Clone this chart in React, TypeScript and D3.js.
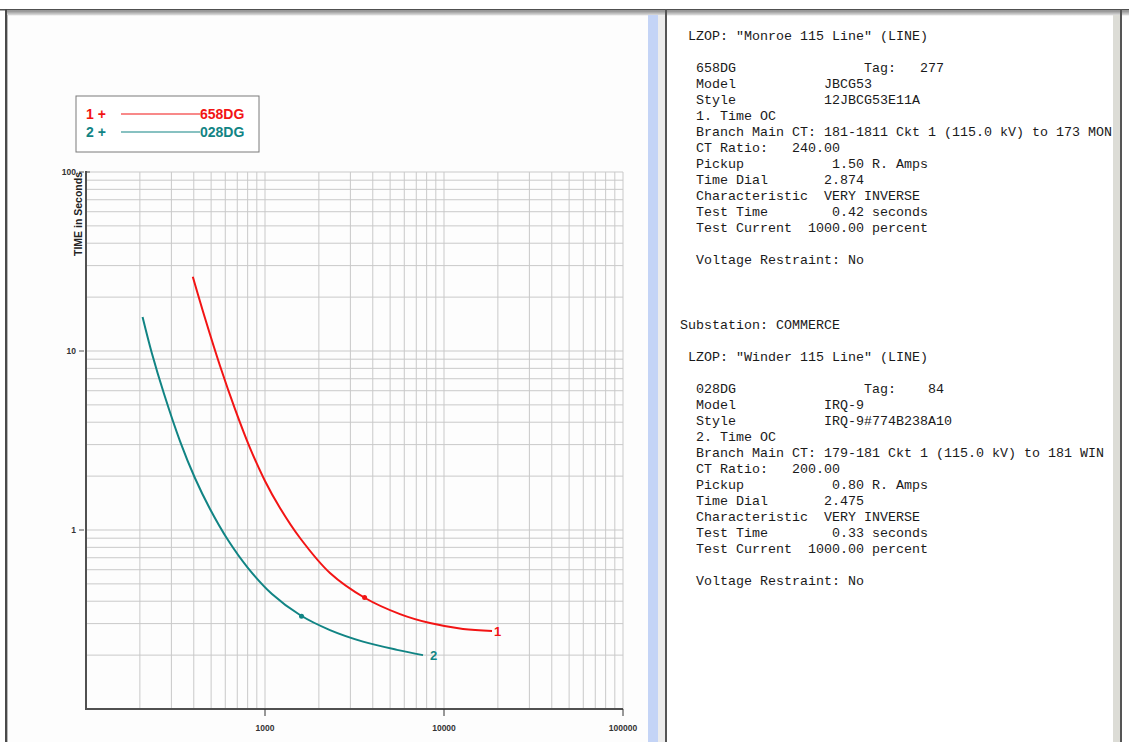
import React from "react";
import * as d3 from "d3";

// ---- data ----
const series1Name = "658DG";
const series2Name = "028DG";
const series1Current = [395, 462, 561, 680, 825, 1000, 1213, 1569, 2307, 3621, 5679, 8351, 12770, 18550];
const series1Time = [26.0, 15.29, 8.25, 4.74, 2.87, 1.88, 1.327, 0.902, 0.575, 0.417, 0.339, 0.302, 0.28, 0.273];
const series2Current = [207, 234, 273, 335, 406, 493, 621, 804, 1094, 1569, 2307, 3528, 5463, 7634];
const series2Time = [15.5, 9.62, 5.75, 3.14, 1.952, 1.31, 0.879, 0.613, 0.439, 0.335, 0.276, 0.238, 0.214, 0.2];
const testPoints = [
  { current: 3600, time: 0.42 },
  { current: 1600, time: 0.33 },
];
const xTickLabels = [1000, 10000, 100000];
const yTickLabels = [100, 10, 1];
const xDomain = [100, 100000];
const yDomain = [0.1, 100];

const block1 = [
  ' LZOP: "Monroe 115 Line" (LINE)',
  "",
  "  658DG                Tag:   277",
  "  Model           JBCG53",
  "  Style           12JBCG53E11A",
  "  1. Time OC",
  "  Branch Main CT: 181-1811 Ckt 1 (115.0 kV) to 173 MON",
  "  CT Ratio:   240.00",
  "  Pickup           1.50 R. Amps",
  "  Time Dial       2.874",
  "  Characteristic  VERY INVERSE",
  "  Test Time        0.42 seconds",
  "  Test Current  1000.00 percent",
  "",
  "  Voltage Restraint: No",
];
const block2 = [
  "Substation: COMMERCE",
  "",
  ' LZOP: "Winder 115 Line" (LINE)',
  "",
  "  028DG                Tag:    84",
  "  Model           IRQ-9",
  "  Style           IRQ-9#774B238A10",
  "  2. Time OC",
  "  Branch Main CT: 179-181 Ckt 1 (115.0 kV) to 181 WIN",
  "  CT Ratio:   200.00",
  "  Pickup           0.80 R. Amps",
  "  Time Dial       2.475",
  "  Characteristic  VERY INVERSE",
  "  Test Time        0.33 seconds",
  "  Test Current  1000.00 percent",
  "",
  "  Voltage Restraint: No",
];

const RED = "#f21414";
const TEAL = "#118484";

export default function App() {
  const W = 1129,
    H = 742;
  const left = 86,
    right = 623,
    top = 172,
    bottom = 709;
  const x = d3.scaleLog().domain(xDomain).range([left, right]);
  const y = d3.scaleLog().domain(yDomain).range([bottom, top]);
  const xGrid = x.ticks();
  const yGrid = y.ticks();
  const line = d3
    .line<[number, number]>()
    .x((d) => x(d[0]))
    .y((d) => y(d[1]))
    .curve(d3.curveCatmullRom.alpha(0.5));
  const s1 = series1Current.map((c, i) => [c, series1Time[i]] as [number, number]);
  const s2 = series2Current.map((c, i) => [c, series2Time[i]] as [number, number]);
  const last1 = s1[s1.length - 1];
  const last2 = s2[s2.length - 1];
  const mono = "'Liberation Mono', 'Courier New', monospace";
  const sans = "'Liberation Sans', Arial, sans-serif";

  return (
    <svg
      width={W}
      height={H}
      style={{ position: "absolute", left: 0, top: 0, background: "#ffffff" }}
    >
      <defs>
        <linearGradient id="topbar" x1="0" x2="0" y1="0" y2="1">
          <stop offset="0" stopColor="#8a8a8a" />
          <stop offset="1" stopColor="#e4e4e4" />
        </linearGradient>
      </defs>
      {/* window frames */}
      <rect x={0} y={0} width={W} height={H} fill="#ffffff" />
      <rect x={8} y={15} width={640} height={727} fill="#fdfdfd" />
      <rect x={0} y={9} width={W} height={1.5} fill="#505050" />
      <rect x={6} y={10.5} width={W - 6} height={5} fill="url(#topbar)" />
      <rect x={5} y={9} width={2} height={H} fill="#4a4a4a" />
      <rect x={7} y={15} width={1} height={H} fill="#b8b8b8" />
      <rect x={648} y={15} width={10} height={H} fill="#c4d4f6" />
      <rect x={658} y={15} width={7} height={H} fill="#ececec" />
      <rect x={665} y={9} width={2} height={H} fill="#555555" />
      <rect x={1113} y={15} width={7} height={H} fill="#dcdcd6" />
      <rect x={1120} y={9} width={2} height={H} fill="#555555" />

      {/* grid */}
      <g stroke="#c9c9c9" strokeWidth={1}>
        {xGrid.map((t, i) => (
          <line key={"xg" + i} x1={x(t)} x2={x(t)} y1={top} y2={bottom} />
        ))}
        {yGrid.map((t, i) => (
          <line key={"yg" + i} x1={left} x2={right} y1={y(t)} y2={y(t)} />
        ))}
      </g>
      {/* axes */}
      <line x1={left} x2={left} y1={top - 1} y2={bottom + 1} stroke="#505050" strokeWidth={2} />
      <line x1={left} x2={right} y1={bottom} y2={bottom} stroke="#505050" strokeWidth={2} />
      <line x1={left} x2={left + 4} y1={top} y2={top} stroke="#505050" strokeWidth={1} />
      {yTickLabels.map((t) => (
        <g key={"yl" + t}>
          <line x1={left - 7} x2={left - 2} y1={y(t)} y2={y(t)} stroke="#555" strokeWidth={1} />
          <text
            x={left - 10}
            y={y(t) + 3}
            textAnchor="end"
            fontFamily={sans}
            fontSize={8.5}
            fontWeight="bold"
            fill="#333"
          >
            {t}
          </text>
        </g>
      ))}
      {xTickLabels.map((t) => (
        <g key={"xl" + t}>
          <line x1={x(t)} x2={x(t)} y1={bottom} y2={bottom + 7} stroke="#333" strokeWidth={1} />
          <text
            x={x(t)}
            y={bottom + 22}
            textAnchor="middle"
            fontFamily={sans}
            fontSize={8.5}
            fontWeight="bold"
            fill="#333"
          >
            {t}
          </text>
        </g>
      ))}
      <text
        transform={`translate(${left - 4},${top}) rotate(-90)`}
        textAnchor="end"
        fontFamily={sans}
        fontSize={10.5}
        fontWeight="bold"
        fill="#222"
      >
        TIME in Seconds
      </text>

      {/* curves */}
      <path d={line(s1) || ""} fill="none" stroke={RED} strokeWidth={2} />
      <path d={line(s2) || ""} fill="none" stroke={TEAL} strokeWidth={2} />
      <circle cx={x(testPoints[0].current)} cy={y(testPoints[0].time)} r={2.5} fill={RED} />
      <circle cx={x(testPoints[1].current)} cy={y(testPoints[1].time)} r={2.5} fill={TEAL} />
      <text
        x={x(last1[0]) + 2}
        y={y(last1[1]) + 5}
        fontFamily={sans}
        fontSize={13}
        fontWeight="bold"
        fill={RED}
      >
        1
      </text>
      <text
        x={x(last2[0]) + 7}
        y={y(last2[1]) + 5}
        fontFamily={sans}
        fontSize={13}
        fontWeight="bold"
        fill={TEAL}
      >
        2
      </text>

      {/* legend */}
      <rect x={76} y={96} width={183} height={56} fill="#ffffff" stroke="#7a7a7a" strokeWidth={1} />
      <text x={86} y={119} fontFamily={sans} fontSize={14} fontWeight="bold" fill={RED}>
        1 +
      </text>
      <line x1={121} x2={200} y1={114} y2={114} stroke={RED} strokeWidth={1.2} />
      <text x={200} y={119} fontFamily={sans} fontSize={14} fontWeight="bold" fill={RED}>
        {series1Name}
      </text>
      <text x={86} y={137} fontFamily={sans} fontSize={14} fontWeight="bold" fill={TEAL}>
        2 +
      </text>
      <line x1={121} x2={200} y1={132} y2={132} stroke={TEAL} strokeWidth={1.2} />
      <text x={200} y={137} fontFamily={sans} fontSize={14} fontWeight="bold" fill={TEAL}>
        {series2Name}
      </text>

      {/* right report panel */}
      <g fontFamily={mono} fontSize={13.33} fill="#1a1a1a">
        {block1.map((s, i) => (
          <text key={"b1" + i} x={680} y={40 + i * 16} style={{ whiteSpace: "pre" }}>
            {s}
          </text>
        ))}
        {block2.map((s, i) => (
          <text key={"b2" + i} x={680} y={329 + i * 16} style={{ whiteSpace: "pre" }}>
            {s}
          </text>
        ))}
      </g>
    </svg>
  );
}
